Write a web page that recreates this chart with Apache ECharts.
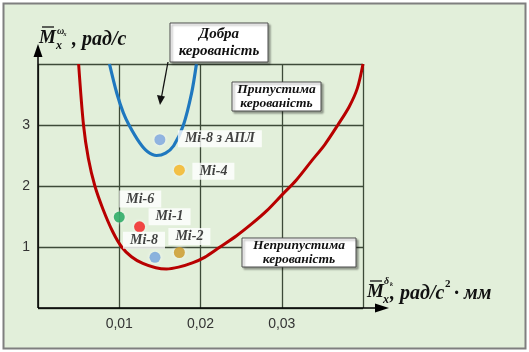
<!doctype html>
<html>

<head>
  <meta charset="utf-8">
  <title>Керованість вертольотів</title>
  <script src="https://cdn.jsdelivr.net/npm/echarts@6/dist/echarts.min.js"></script>
  <style>
    html,
    body {
      width: 100%;
      height: 100%;
      background-color: #ffffff;
      padding: 0;
      margin: 0;
    }

    #main {
      width: 529px;
      height: 352px;
    }
  </style>
</head>

<body>
  <div id="main"></div>
</body>

<script type="text/javascript">
  // межа допустимої керованості (червона крива)
  var redCurve = [
    [0.0050, 4.0], [0.0056, 3.0], [0.0062, 2.45], [0.0070, 2.0], [0.0080, 1.62],
    [0.0092, 1.25], [0.0103, 1.0], [0.0115, 0.84], [0.0129, 0.73], [0.0145, 0.66],
    [0.0158, 0.64], [0.0173, 0.67], [0.0190, 0.74], [0.0205, 0.83], [0.0224, 1.0],
    [0.0244, 1.18], [0.0264, 1.39], [0.0282, 1.6], [0.0300, 1.85], [0.0318, 2.1],
    [0.0336, 2.4], [0.0353, 2.68], [0.0369, 3.0], [0.0383, 3.3], [0.0393, 3.6],
    [0.0400, 4.0]
  ];
  // межа доброї керованості (синя крива)
  var blueCurve = [
    [0.0088, 4.0], [0.0097, 3.52], [0.0105, 3.2], [0.0112, 3.0], [0.0125, 2.71],
    [0.0135, 2.56], [0.0146, 2.5], [0.0157, 2.54], [0.0167, 2.66], [0.0179, 3.0],
    [0.0189, 3.52], [0.0195, 4.0]
  ];
  // вертольоти
  var heliNames = ['Мі-8 з АПЛ', 'Мі-4', 'Мі-6', 'Мі-1', 'Мі-8', 'Мі-2'];
  var heliX = [0.0150, 0.0174, 0.0100, 0.0125, 0.0144, 0.0174];
  var heliY = [2.76, 2.26, 1.49, 1.33, 0.83, 0.91];

  var xTicks = [0.01, 0.02, 0.03];
  var xTickLabels = ['0,01', '0,02', '0,03'];
  var yTicks = [1, 2, 3];
  var yTickLabels = ['1', '2', '3'];

  // стиль точок (не дані)
  var heliColors = ['#78a2dc', '#f2b21c', '#17a356', '#f01818', '#6fa0d8', '#c8951f'];
  var labelOffsets = [[60, -1], [34, 1], [21, -18], [30, -10], [-11, -17], [10, -16]];

  var serif = '"Liberation Serif", "DejaVu Serif", serif';

  function tickFmt(ticks, labels) {
    return function (v) {
      for (var i = 0; i < ticks.length; i++) {
        if (Math.abs(v - ticks[i]) < 1e-9) return labels[i];
      }
      return '';
    };
  }

  var heliData = heliNames.map(function (n, i) {
    return {
      name: n,
      value: [heliX[i], heliY[i]],
      itemStyle: { color: heliColors[i] },
      label: { offset: labelOffsets[i] }
    };
  });

  function txt(x, y, text, font, align) {
    return {
      type: 'text', z: 20,
      style: {
        x: x, y: y, text: text, font: font, fill: '#111',
        textAlign: align || 'left', textVerticalAlign: 'middle'
      }
    };
  }

  function box(x, y, w, h) {
    return {
      type: 'rect', z: 15,
      shape: { x: x, y: y, width: w, height: h },
      style: {
        fill: '#ffffff', stroke: '#4d4d4d', lineWidth: 1,
        shadowBlur: 2, shadowOffsetX: 2, shadowOffsetY: 2, shadowColor: 'rgba(0,0,0,0.35)'
      }
    };
  }

  var option = {
    backgroundColor: '#ffffff',
    animation: false,
    grid: { left: 38, top: 64, width: 325, height: 244 },
    xAxis: {
      type: 'value', min: 0, max: 0.04, interval: 0.01,
      axisLine: { show: false },
      axisTick: { show: false },
      axisLabel: {
        formatter: tickFmt(xTicks, xTickLabels), margin: 9,
        color: '#333', fontSize: 14, fontFamily: '"Liberation Sans", sans-serif'
      },
      splitLine: { show: true, lineStyle: { color: '#3d4a38', width: 1.3 } }
    },
    yAxis: {
      type: 'value', min: 0, max: 4, interval: 1,
      axisLine: { show: false },
      axisTick: { show: false },
      axisLabel: {
        formatter: tickFmt(yTicks, yTickLabels), margin: 8,
        color: '#333', fontSize: 14, fontFamily: '"Liberation Sans", sans-serif'
      },
      splitLine: { show: true, lineStyle: { color: '#3d4a38', width: 1.3 } }
    },
    graphic: [
      {
        type: 'rect', z: -10, silent: true,
        shape: { x: 3.5, y: 3.5, width: 522, height: 345 },
        style: { fill: '#e2efda', stroke: '#7f7f7f', lineWidth: 2 }
      },
      // осі зі стрілками
      { type: 'line', z: 12, shape: { x1: 38, y1: 308, x2: 38, y2: 54 }, style: { stroke: '#000', lineWidth: 1.5 } },
      { type: 'polygon', z: 12, shape: { points: [[33.5, 57], [42.5, 57], [38, 44]] }, style: { fill: '#000' } },
      { type: 'line', z: 12, shape: { x1: 38, y1: 308, x2: 378, y2: 308 }, style: { stroke: '#000', lineWidth: 1.5 } },
      { type: 'polygon', z: 12, shape: { points: [[375, 303.5], [375, 312.5], [389, 308]] }, style: { fill: '#000' } },
      // назва осі Y
      txt(39, 38, 'M', 'italic bold 19px ' + serif),
      { type: 'line', z: 20, shape: { x1: 42, y1: 27, x2: 54, y2: 27 }, style: { stroke: '#111', lineWidth: 1.3 } },
      txt(57, 31, 'ω', 'italic bold 10px ' + serif),
      txt(63.5, 34, 'x', 'italic bold 6px ' + serif),
      txt(56, 46, 'x', 'italic bold 12px ' + serif),
      txt(72, 40, ', рад/с', 'italic bold 20px ' + serif),
      // назва осі X
      txt(367, 292, 'M', 'italic bold 19px ' + serif),
      { type: 'line', z: 20, shape: { x1: 370, y1: 281, x2: 382, y2: 281 }, style: { stroke: '#111', lineWidth: 1.3 } },
      txt(384, 281, 'δ', 'italic bold 10px ' + serif),
      txt(390, 284, 'k', 'italic bold 6px ' + serif),
      txt(383, 300, 'x', 'italic bold 12px ' + serif),
      txt(390, 294, ', рад/с', 'italic bold 20px ' + serif),
      txt(445, 284, '2', 'bold 11px ' + serif),
      txt(454, 294, '· мм', 'italic bold 20px ' + serif),
      // пояснювальні написи
      box(170, 23, 98, 39),
      txt(219, 34, 'Добра', 'italic bold 15px ' + serif, 'center'),
      txt(219, 51, 'керованість', 'italic bold 15px ' + serif, 'center'),
      { type: 'line', z: 14, shape: { x1: 168, y1: 62, x2: 161.5, y2: 97 }, style: { stroke: '#111', lineWidth: 1.3 } },
      { type: 'polygon', z: 14, shape: { points: [[157, 95], [165, 96.5], [160, 105]] }, style: { fill: '#111' } },
      box(232, 82, 89, 29),
      txt(276.5, 90, 'Припустима', 'italic bold 13.5px ' + serif, 'center'),
      txt(276.5, 104, 'керованість', 'italic bold 13.5px ' + serif, 'center'),
      box(242, 238, 114, 29),
      txt(299, 246, 'Неприпустима', 'italic bold 13.5px ' + serif, 'center'),
      txt(299, 260, 'керованість', 'italic bold 13.5px ' + serif, 'center')
    ],
    series: [
      {
        name: 'Допустима', type: 'line', data: redCurve, smooth: 0.3,
        showSymbol: false, z: 5,
        lineStyle: { color: '#b80000', width: 3 }
      },
      {
        name: 'Добра', type: 'line', data: blueCurve, smooth: 0.3,
        showSymbol: false, z: 5,
        lineStyle: { color: '#1f78bf', width: 3.2 }
      },
      {
        name: 'Вертольоти', type: 'scatter', data: heliData, symbolSize: 11, z: 8,
        itemStyle: { shadowBlur: 4, shadowColor: 'rgba(255,255,255,0.9)' },
        label: {
          show: true, position: 'inside', formatter: '{b}',
          color: '#111', fontStyle: 'italic', fontWeight: 'bold',
          fontSize: 14, fontFamily: serif,
          backgroundColor: '#ffffff', padding: [2, 7, 1, 7]
        }
      }
    ]
  };

  var myChart = echarts.init(document.getElementById('main'));
  myChart.setOption(option);
</script>

</html>
